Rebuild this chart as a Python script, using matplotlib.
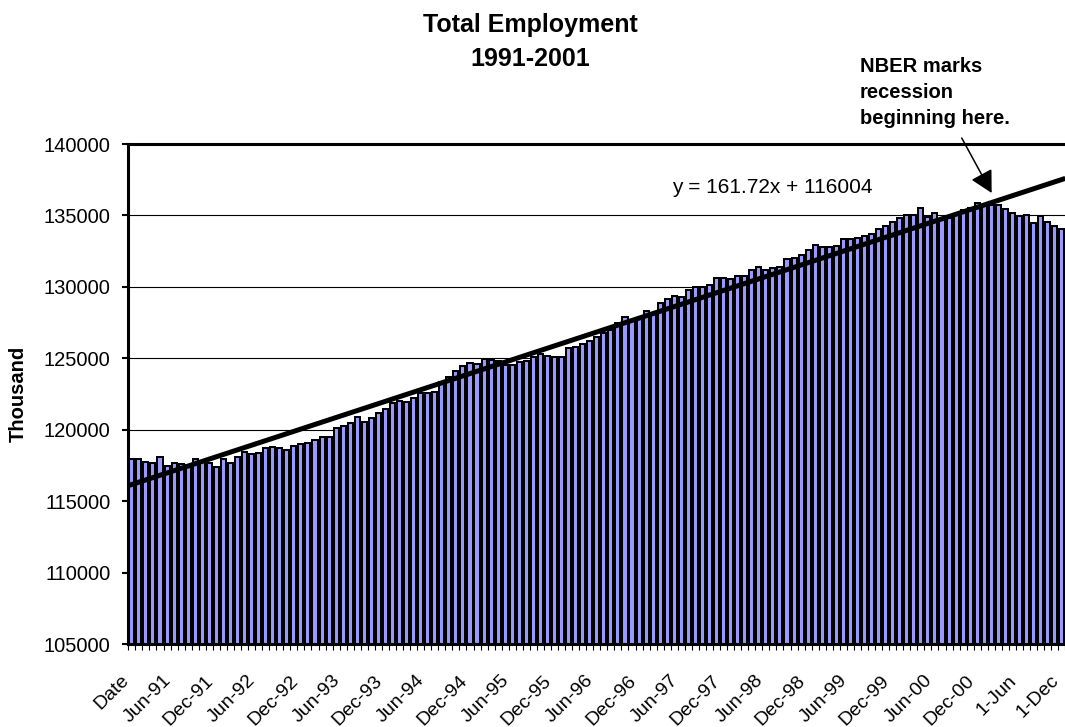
import matplotlib
matplotlib.use("Agg")
import matplotlib.pyplot as plt
import numpy as np

plt.rcParams['font.family'] = ['Liberation Sans', 'DejaVu Sans']

# ---- data (thousands) ----
employment = [
    117950, 117930, 117760, 117650, 118110, 117440, 117670, 117590, 117500, 117940,
    117780, 117690, 117390, 117940, 117680, 118090, 118420, 118310, 118370, 118700,
    118810, 118720, 118610, 118870, 119000, 119050, 119280, 119510, 119470, 120100,
    120280, 120450, 120870, 120560, 120800, 121190, 121450, 121850, 122010, 121920,
    122240, 122590, 122550, 122620, 123360, 123710, 124130, 124480, 124690, 124580,
    124930, 124880, 124810, 124530, 124530, 124720, 124810, 125070, 125300, 125180,
    125070, 125070, 125700, 125810, 125980, 126230, 126510, 126790, 126980, 127450,
    127870, 127680, 127730, 128310, 128150, 128890, 129130, 129380, 129310, 129780,
    129970, 129990, 130160, 130600, 130600, 130550, 130760, 130760, 131180,
    131410, 131180, 131300, 131410, 131930, 132000, 132230, 132580, 132930, 132770,
    132810, 132860, 133330, 133330, 133400, 133560, 133700, 134060, 134240, 134530,
    134830, 135000, 135010, 135500, 134870, 135200, 134700, 134800, 135100, 135390,
    135500, 135850, 135700, 135750, 135730, 135430, 135190, 134960, 135030, 134450,
    134960, 134560, 134260, 134030,
]
tick_labels = ["Date", "Jun-91", "Dec-91", "Jun-92", "Dec-92", "Jun-93", "Dec-93",
               "Jun-94", "Dec-94", "Jun-95", "Dec-95", "Jun-96", "Dec-96", "Jun-97",
               "Dec-97", "Jun-98", "Dec-98", "Jun-99", "Dec-99", "Jun-00", "Dec-00",
               "1-Jun", "1-Dec"]
label_step = 6
trend_slope = 161.72
trend_intercept = 116004
y_ticks = [105000, 110000, 115000, 120000, 125000, 130000, 135000, 140000]

n = len(employment)
x = np.arange(n)

W, H = 1065, 727
fig = plt.figure(figsize=(W / 100, H / 100), dpi=100)
left_px, right_px, top_px, bot_px = 128.3, 128.3 + n * 7.045, 144, 644
ax = fig.add_axes([left_px / W, 1 - bot_px / H, (right_px - left_px) / W,
                   (bot_px - top_px) / H])

ax.bar(x, np.array(employment) - y_ticks[0], bottom=y_ticks[0], width=0.72,
       color='#9999FF', edgecolor='black', linewidth=1.45, zorder=2)

# trendline
tx = np.array([-0.5, n - 0.5])
ax.plot(tx, trend_slope * (tx + 1) + trend_intercept, color='black', lw=3.6,
        solid_capstyle='butt', zorder=3)

ax.set_xlim(-0.5, n - 0.5)
ax.set_ylim(y_ticks[0], y_ticks[-1])
ax.set_yticks(y_ticks)
ax.set_yticklabels([str(v) for v in y_ticks], fontsize=14.5)
ax.yaxis.grid(True, color='black', lw=0.8, zorder=0)
ax.set_axisbelow(True)

# x ticks: marks at category boundaries, labels every 6
ax.set_xticks(np.arange(-0.5, n, 1.0))
ax.set_xticklabels([])
ax.tick_params(axis='x', length=4, width=0.8, direction='out')
ax.tick_params(axis='y', length=4.3, width=1.5, direction='out', pad=8.4)
xt = ax.get_xaxis_transform()
for i, lab in enumerate(tick_labels):
    ax.text(i * label_step - 0.8, -34 / 500, lab, rotation=45, transform=xt,
            ha='right', va='center', rotation_mode='anchor', fontsize=14)

for s in ['left', 'bottom', 'top']:
    ax.spines[s].set_linewidth(2.2)
ax.spines['right'].set_visible(False)

fig.text(18 / W, 1 - 394 / H, 'Thousand', rotation=90, ha='center', va='center',
         fontsize=14.5, fontweight='bold')

ax.text(76.68, 105000 + (644 - 193) * 70, 'y = 161.72x + 116004', fontsize=15,
        va='baseline', ha='left')

ax.annotate('', xy=(122.05, 136570), xytext=(117.8, 140420),
            arrowprops=dict(arrowstyle='-|>,head_length=0.75,head_width=0.4',
                            color='black', lw=1.1, mutation_scale=18,
                            shrinkA=0, shrinkB=0),
            annotation_clip=False, zorder=5)

fig.text(530 / W, 1 - 32 / H, 'Total Employment', ha='center', va='baseline',
         fontsize=18, fontweight='bold')
fig.text(530 / W, 1 - 66 / H, '1991-2001', ha='center', va='baseline',
         fontsize=18, fontweight='bold')
for txt, base in zip(['NBER marks', 'recession', 'beginning here.'], [72, 98, 124]):
    fig.text(860 / W, 1 - base / H, txt, ha='left', va='baseline',
             fontsize=14.5, fontweight='bold')

fig.savefig('out.png', dpi=100)
